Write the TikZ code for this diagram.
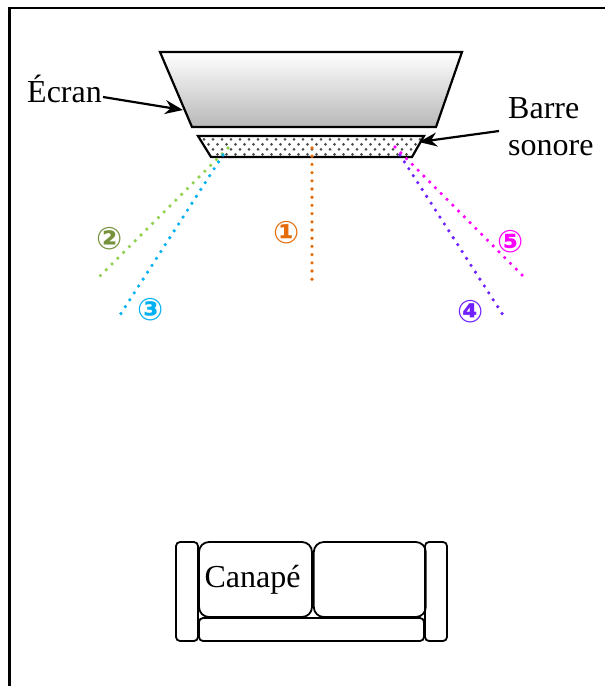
\documentclass[tikz,border=0pt]{standalone}
\usepackage{fontspec}
\setmainfont{Liberation Serif}
\newfontfamily\symbfont{DejaVu Sans Bold}
\usepackage{tikz}
\usetikzlibrary{arrows.meta}
\usetikzlibrary{patterns}
\usetikzlibrary{positioning}

\definecolor{beamorange}{RGB}{228,108,10}
\definecolor{beamgreen}{RGB}{146,208,80}
\definecolor{labelgreen}{RGB}{118,146,60}
\definecolor{beamblue}{RGB}{0,176,240}
\definecolor{beamviolet}{RGB}{112,32,255}
\definecolor{beammagenta}{RGB}{255,0,255}

% staggered dots for the sound bar
\pgfdeclarepatternformonly{sbdots}{\pgfqpoint{-1pt}{-1pt}}{\pgfqpoint{10pt}{11pt}}{\pgfqpoint{9pt}{10pt}}{
  \pgfpathcircle{\pgfqpoint{1.5pt}{1.5pt}}{1.5pt}
  \pgfpathcircle{\pgfqpoint{6pt}{6.5pt}}{1.5pt}
  \pgfusepath{fill}}

\begin{document}
\begin{tikzpicture}[x=1pt,y=-1pt,
    txt/.style={font=\fontsize{32}{37}\selectfont, inner sep=0pt},
    num/.style={font=\symbfont\fontsize{31}{31}\selectfont, inner sep=0pt},
    beam/.style={line width=3.6pt, line cap=round, dash pattern=on 0pt off 8.2pt},
    pointer/.style={line width=2.2pt, -{Stealth[length=18pt,width=14pt]}},
    arm/.style={draw, line width=1.8pt, rounded corners=4pt},
    cushion/.style={draw, line width=1.8pt, rounded corners=10pt}]
    \useasboundingbox (0,0) rectangle (605,686);
    \clip (0,0) rectangle (605,686);

    % room
    \draw[line width=2.2pt] (9.5,8) rectangle (640,720);

    % screen and sound bar
    \draw[line width=2.2pt, top color=white, bottom color=black!28]
        (160,52) -- (462,52) -- (436,127) -- (192,127) -- cycle;
    \draw[line width=2.2pt, pattern=sbdots, pattern color=black!70]
        (198,136) -- (424,136) -- (412,157) -- (211,157) -- cycle;
    \coordinate (scr) at (183,110);
    \coordinate (bar) at (419,142);

    \node[txt, anchor=base west] (ecran) at (27,102) {Écran};
    \node[txt, anchor=base west, align=left] (barre) at (508,155) {Barre\\sonore};
    \coordinate (e0) at (103,97);
    \coordinate (b0) at (499,131);
    \draw[pointer] (e0) -- (scr);
    \draw[pointer] (b0) -- (bar);

    % beams of the sound bar
    \coordinate (s1) at (312,148);  \coordinate (t1) at (312,282);
    \coordinate (s2) at (228,148);  \coordinate (t2) at (99,277);
    \coordinate (s3) at (223,155);  \coordinate (t3) at (120,315);
    \coordinate (s4) at (400,155);  \coordinate (t4) at (503,315);
    \coordinate (s5) at (395,147);  \coordinate (t5) at (524,277);
    \draw[beam, beamorange] (s1) -- (t1);
    \draw[beam, beamgreen] (s2) -- (t2);
    \draw[beam, beamblue] (s3) -- (t3);
    \draw[beam, beamviolet] (s4) -- (t4);
    \draw[beam, beammagenta] (s5) -- (t5);

    \node[num, text=beamorange] (n1) at (287,233) {①};
    \node[num, text=labelgreen] (n2) at (110,239) {②};
    \node[num, text=beamblue] (n3) at (151,310) {③};
    \node[num, text=beamviolet] (n4) at (471,312) {④};
    \node[num, text=beammagenta] (n5) at (511,242) {⑤};

    % sofa
    \draw[arm] (176,542) rectangle (198,641);
    \draw[arm] (425,542) rectangle (447,641);
    \draw[arm] (199,618) rectangle (424,641);
    \node[cushion, minimum width=113pt, minimum height=75pt] (lcush) at (255.5,579.5) {};
    \node[cushion, minimum width=112pt, minimum height=75pt, right=0pt of lcush] (rcush) {};
    \node[txt] (canape) at ([xshift=-3pt]lcush.center) {Canapé};
\end{tikzpicture}
\end{document}
